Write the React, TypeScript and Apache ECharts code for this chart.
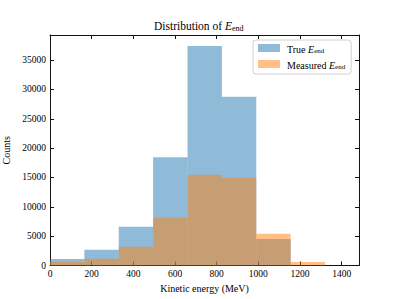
import React, { useEffect, useRef } from "react";
import * as echarts from "echarts";

const binEdges = [0, 165, 330, 495, 660, 825, 990, 1155, 1320];
const trueCounts = [1100, 2700, 6600, 18450, 37400, 28750, 4500, 0];
const measuredCounts = [600, 1150, 3200, 8150, 15450, 14900, 5400, 600];
const xTicks = [0, 200, 400, 600, 800, 1000, 1200, 1400];
const yTicks = [0, 5000, 10000, 15000, 20000, 25000, 30000, 35000];

const FONT = "Liberation Serif";
const X_MAX = 1483;
const Y_MAX = 39270;

function toBins(counts: number[]) {
  return counts.map((c, i) => [binEdges[i], binEdges[i + 1], c]);
}

function makeRender(fill: string) {
  return (params: any, api: any) => {
    const x0 = api.value(0);
    const x1 = api.value(1);
    const y = api.value(2);
    const p0 = api.coord([x0, y]);
    const p1 = api.coord([x1, 0]);
    return {
      type: "rect",
      shape: { x: p0[0], y: p0[1], width: p1[0] - p0[0], height: p1[1] - p0[1] },
      style: { fill },
    };
  };
}

const rich = {
  n: { fontFamily: FONT, fontSize: 10, fontWeight: "normal", color: "#000", verticalAlign: "bottom", lineHeight: 12 },
  i: { fontFamily: FONT, fontSize: 10, fontStyle: "italic", fontWeight: "normal", color: "#000", verticalAlign: "bottom", lineHeight: 12 },
  s: { fontFamily: FONT, fontSize: 7, fontWeight: "normal", color: "#000", verticalAlign: "bottom", lineHeight: 10 },
};

const titleRich = {
  n: { fontFamily: FONT, fontSize: 11.5, fontWeight: "normal", color: "#000", verticalAlign: "bottom", lineHeight: 14 },
  i: { fontFamily: FONT, fontSize: 11.5, fontStyle: "italic", fontWeight: "normal", color: "#000", verticalAlign: "bottom", lineHeight: 14 },
  s: { fontFamily: FONT, fontSize: 8, fontWeight: "normal", color: "#000", verticalAlign: "bottom", lineHeight: 11 },
};

export default function App() {
  const ref = useRef<HTMLDivElement>(null);
  useEffect(() => {
    if (!ref.current) return;
    const chart = echarts.init(ref.current, null, { renderer: "svg" });
    const blue = "rgba(31,119,180,0.5)";
    const orange = "rgba(255,127,14,0.5)";
    const axisLine = { show: true, onZero: false, lineStyle: { color: "#111", width: 1 } };
    const axisTick = { show: true, inside: true, length: 4, lineStyle: { color: "#111", width: 1 } };
    chart.setOption({
      animation: false,
      backgroundColor: "#fff",
      title: {
        text: "{n|Distribution of }{i|E}{s|end}",
        left: 154,
        top: 18,
        padding: 0,
        textStyle: { fontWeight: "normal", rich: titleRich },
      },
      legend: {
        orient: "vertical",
        left: 253,
        top: 40,
        padding: [4, 6, 4, 5],
        itemGap: 6,
        itemWidth: 22,
        itemHeight: 8,
        icon: "rect",
        backgroundColor: "rgba(255,255,255,0.8)",
        borderColor: "#d0d0d0",
        borderWidth: 1,
        borderRadius: 3,
        data: ["True", "Measured"],
        formatter: (name: string) =>
          name === "True" ? "{n|True }{i|E}{s|end}" : "{n|Measured }{i|E}{s|end}",
        textStyle: { rich, padding: [0, 0, 0, 2] },
      },
      grid: {
        left: 50,
        top: 35,
        width: 309,
        height: 230.5,
        containLabel: false,
        outerBoundsMode: "none",
      },
      xAxis: [
        {
          type: "value",
          min: 0,
          max: X_MAX,
          interval: 200,
          position: "bottom",
          name: "Kinetic energy (MeV)",
          nameLocation: "middle",
          nameGap: 14,
          nameTextStyle: { fontFamily: FONT, fontSize: 10, color: "#000" },
          axisLine,
          axisTick,
          splitLine: { show: false },
          axisLabel: {
            fontFamily: FONT,
            fontSize: 9.5,
            color: "#000",
            margin: 3,
            showMaxLabel: false,
            formatter: (v: number) => (xTicks.includes(v) ? String(v) : ""),
          },
        },
        {
          type: "value",
          min: 0,
          max: X_MAX,
          interval: 200,
          position: "top",
          axisLine,
          axisTick,
          splitLine: { show: false },
          axisLabel: { show: false },
        },
      ],
      yAxis: [
        {
          type: "value",
          min: 0,
          max: Y_MAX,
          interval: 5000,
          position: "left",
          name: "Counts",
          nameLocation: "middle",
          nameGap: 33,
          nameTextStyle: { fontFamily: FONT, fontSize: 10, color: "#000" },
          axisLine,
          axisTick,
          splitLine: { show: false },
          axisLabel: {
            fontFamily: FONT,
            fontSize: 9.5,
            color: "#000",
            margin: 4,
            showMaxLabel: false,
            formatter: (v: number) => (yTicks.includes(v) ? String(v) : ""),
          },
        },
        {
          type: "value",
          min: 0,
          max: Y_MAX,
          interval: 5000,
          position: "right",
          axisLine,
          axisTick,
          splitLine: { show: false },
          axisLabel: { show: false },
        },
      ],
      series: [
        {
          name: "True",
          type: "custom",
          xAxisIndex: 0,
          yAxisIndex: 0,
          itemStyle: { color: blue },
          renderItem: makeRender(blue),
          encode: { x: [0, 1], y: 2 },
          data: toBins(trueCounts),
        },
        {
          name: "Measured",
          type: "custom",
          xAxisIndex: 0,
          yAxisIndex: 0,
          itemStyle: { color: orange },
          renderItem: makeRender(orange),
          encode: { x: [0, 1], y: 2 },
          data: toBins(measuredCounts),
        },
      ],
    });
    return () => chart.dispose();
  }, []);
  return (
    <div
      ref={ref}
      style={{ position: "fixed", left: 0, top: 0, width: 399, height: 299 }}
    />
  );
}
